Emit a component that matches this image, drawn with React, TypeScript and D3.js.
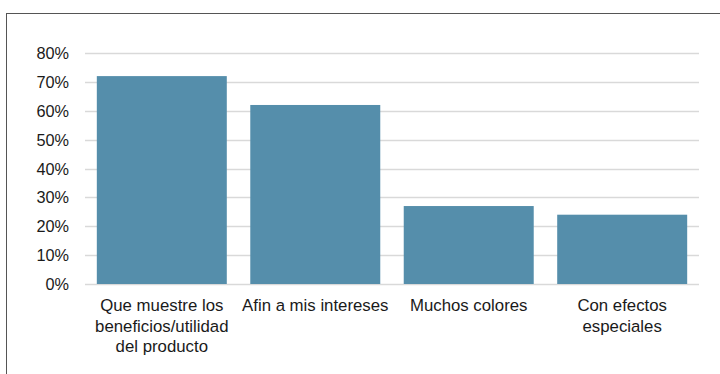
import React from "react";
import * as d3 from "d3";

const categories: string[][] = [
  ["Que muestre los", "beneficios/utilidad", "del producto"],
  ["Afin a mis intereses"],
  ["Muchos colores"],
  ["Con efectos", "especiales"],
];
const values: number[] = [0.72, 0.62, 0.27, 0.24];
const yTicks: number[] = [0, 0.1, 0.2, 0.3, 0.4, 0.5, 0.6, 0.7, 0.8];

const W = 720;
const H = 374;
const left = 85;
const right = 699;
const top = 53;
const bottom = 284;
const FONT = "'Liberation Sans', Arial, sans-serif";

export default function App() {
  const x = d3
    .scaleBand<number>()
    .domain(values.map((_, i) => i))
    .range([left, right])
    .paddingInner(0.153)
    .paddingOuter(0.077);
  const y = d3.scaleLinear().domain([0, 0.8]).range([bottom, top]);
  const fmt = d3.format(".0%");

  return (
    <svg
      width={W}
      height={H}
      style={{ position: "absolute", left: 0, top: 0, display: "block", background: "#fff" }}
    >
      <rect x={6.5} y={13.5} width={W + 10} height={H + 10} fill="#fff" stroke="#555" strokeWidth={1} />
      {yTicks.map((t) => (
        <g key={t}>
          <line x1={left} x2={right} y1={Math.round(y(t)) + 0.5} y2={Math.round(y(t)) + 0.5} stroke="#d9d9d9" strokeWidth={1.3} />
          <text x={69} y={y(t) + 6} textAnchor="end" fontFamily={FONT} fontSize={16.3} fill="#1a1a1a">
            {fmt(t)}
          </text>
        </g>
      ))}
      {values.map((v, i) => (
        <rect key={i} x={x(i)} y={y(v)} width={x.bandwidth()} height={y(0) - y(v)} fill="#558EAB" />
      ))}
      {categories.map((lines, i) => (
        <text key={i} textAnchor="middle" fontFamily={FONT} fontSize={16.8} fill="#1a1a1a">
          {lines.map((l, j) => (
            <tspan key={j} x={(x(i) as number) + x.bandwidth() / 2} y={310.7 + j * 20.8}>
              {l}
            </tspan>
          ))}
        </text>
      ))}
    </svg>
  );
}
